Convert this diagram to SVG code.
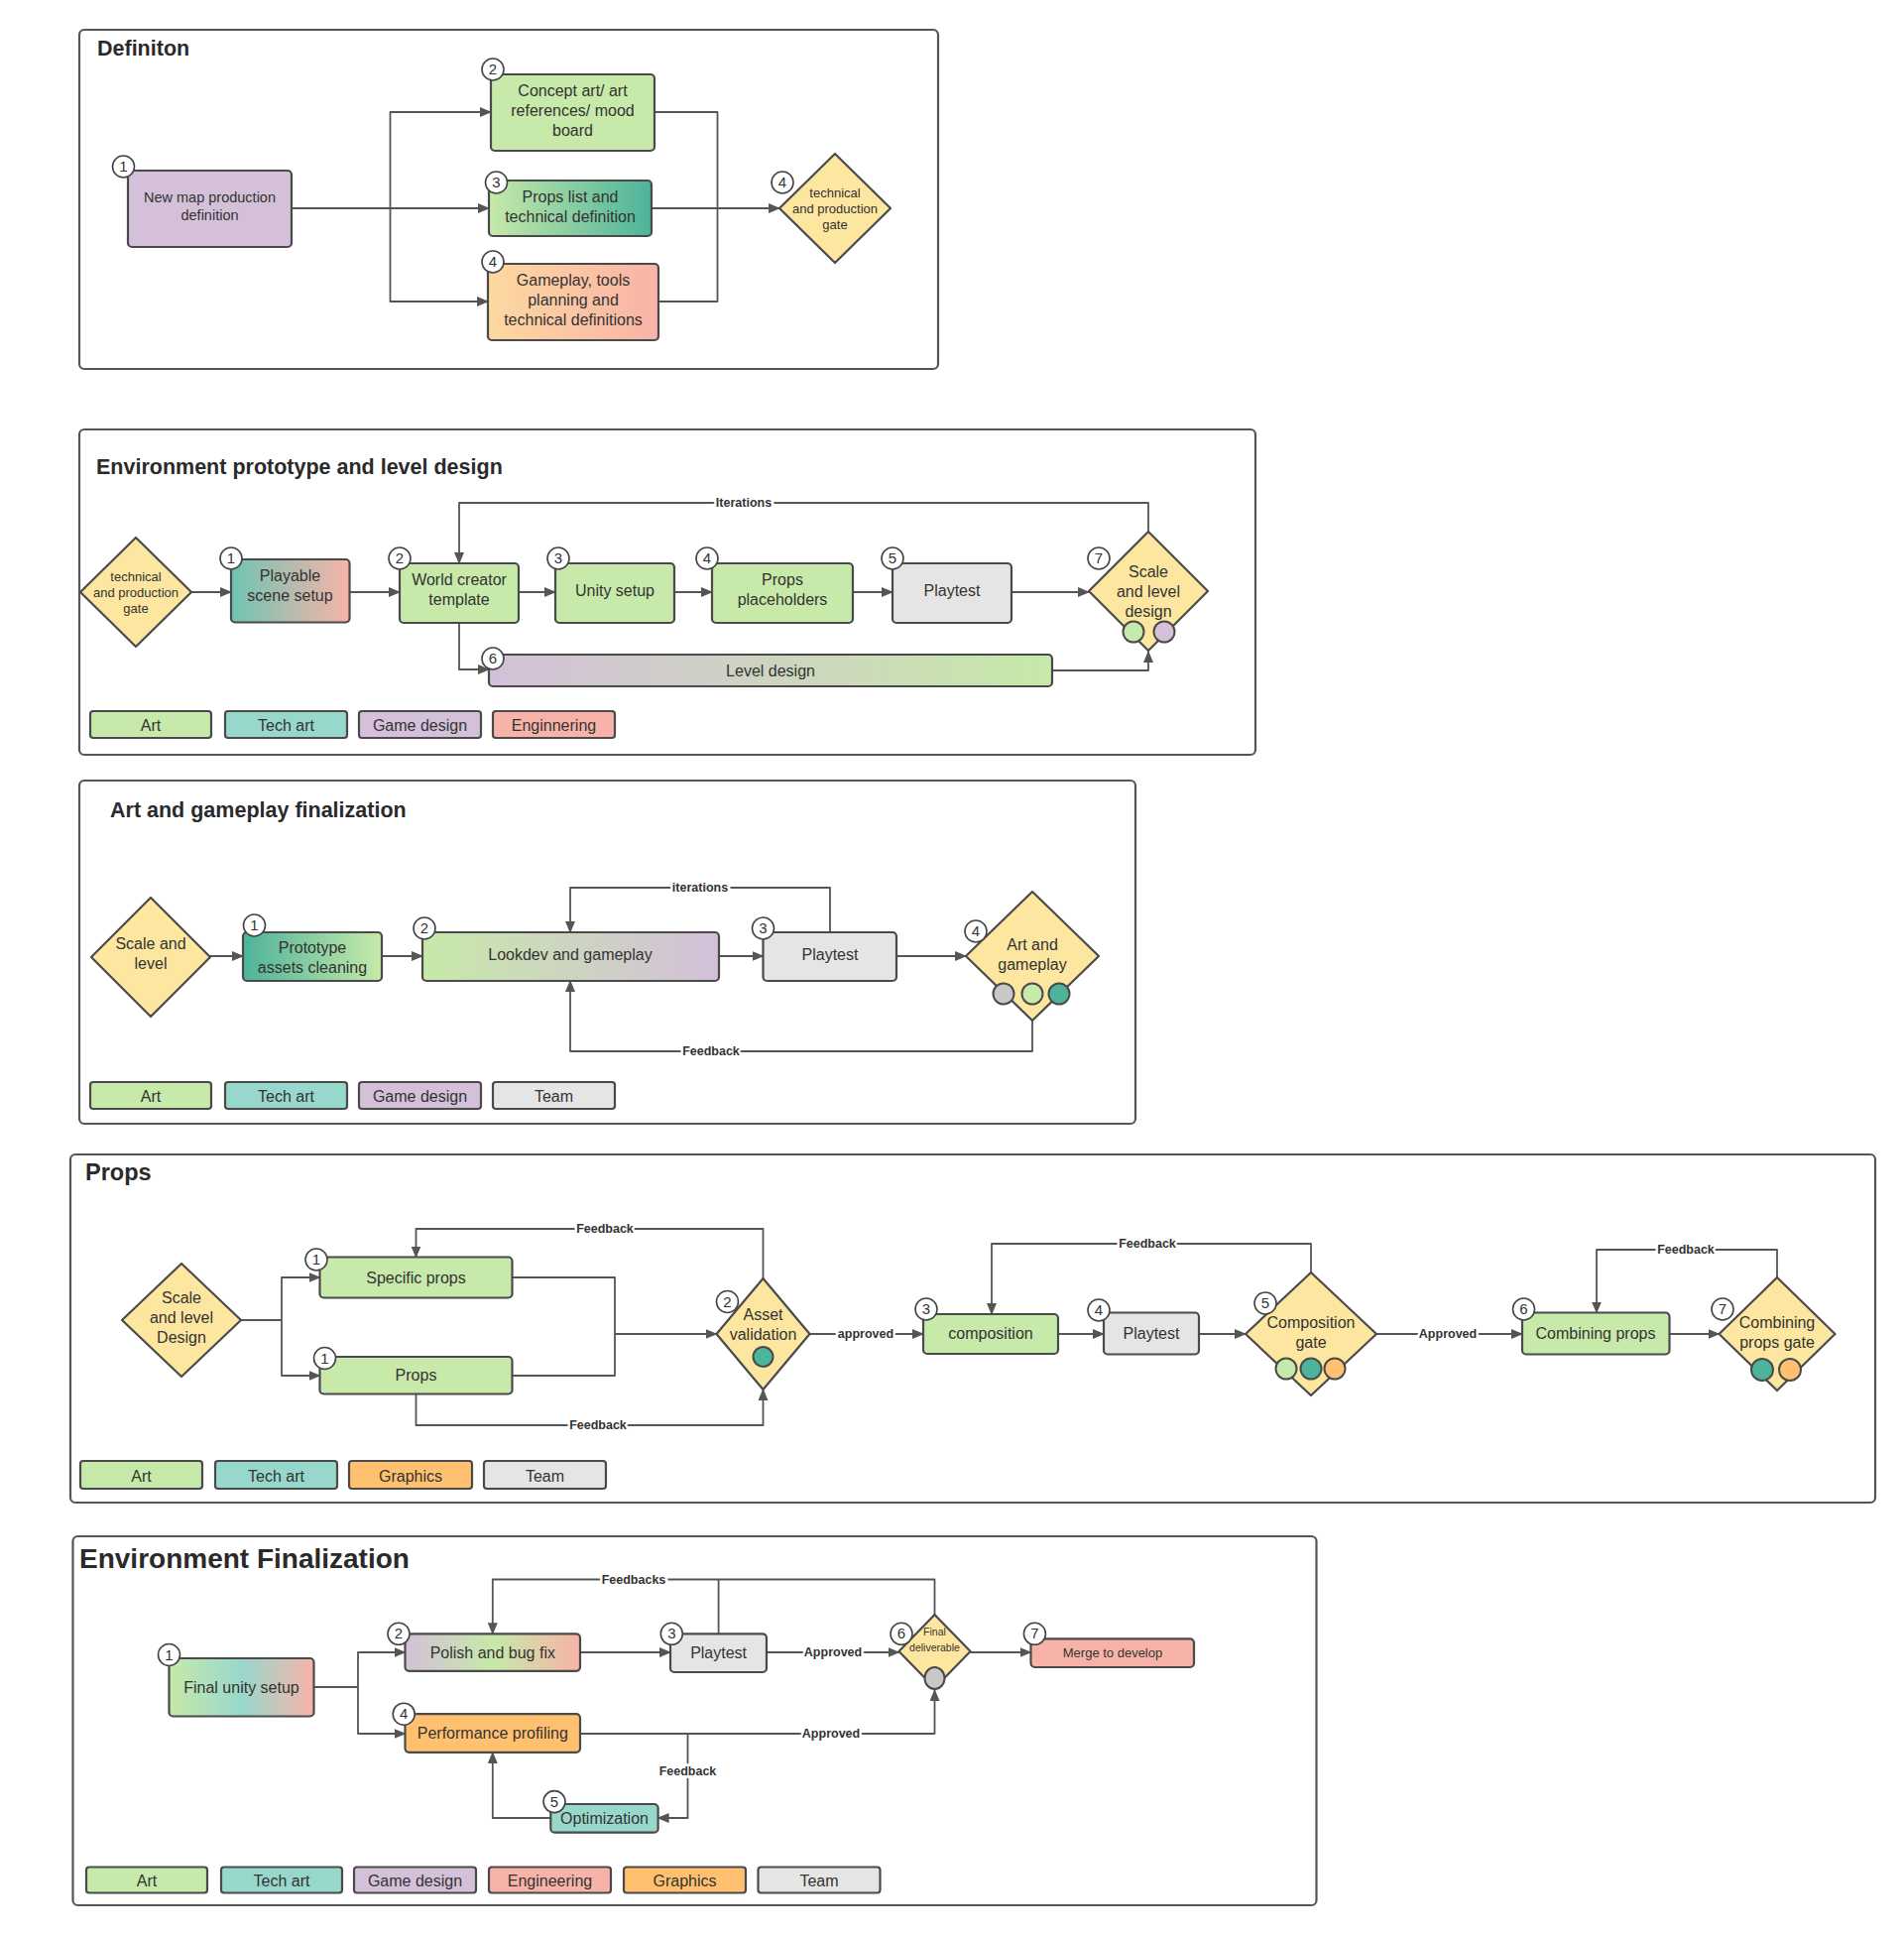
<svg xmlns="http://www.w3.org/2000/svg" width="1920" height="1952" viewBox="0 0 1920 1952">
<style>
.frame{fill:#fff;stroke:#555;stroke-width:2.2}
.title{font-family:'Liberation Sans',Arial,sans-serif;font-weight:bold;font-size:21.5px;fill:#2a2a2a}
.n{stroke:#4a4a4a;stroke-width:2.2}
.t{font-family:'Liberation Sans',Arial,sans-serif;font-size:16px;fill:#333;text-anchor:middle}
.ts{font-size:13px}
.green{fill:#C7E9A9}.teal{fill:#98D8CC}.purple{fill:#D4C0D9}.pink{fill:#F8B3A8}.orange{fill:#FFC170}.gray{fill:#E5E5E5}.yellow{fill:#FDE6A0}.dteal{fill:#4DB39B}.cgray{fill:#C8C8C8}
.b circle{fill:#fff;stroke:#444;stroke-width:1.6}
.b text{font-family:'Liberation Sans',Arial,sans-serif;font-size:15px;fill:#333;text-anchor:middle}
.c path{fill:none;stroke:#555;stroke-width:1.8;stroke-linejoin:round}
.c .a{marker-end:url(#ar)}
.lbl{font-family:'Liberation Sans',Arial,sans-serif;font-weight:bold;font-size:12.5px;fill:#333;text-anchor:middle;paint-order:stroke;stroke:#fff;stroke-width:5px}
.dot{stroke:#4a4a4a;stroke-width:2}
</style>
<defs>
<marker id="ar" markerUnits="userSpaceOnUse" markerWidth="12" markerHeight="10" refX="11" refY="5" orient="auto"><path d="M0,0 L12,5 L0,10 z" fill="#555"/></marker>
<linearGradient id="gGT"><stop offset="0" stop-color="#C7E9A9"/><stop offset="1" stop-color="#4DB39B"/></linearGradient>
<linearGradient id="gTG"><stop offset="0" stop-color="#4DB39B"/><stop offset="1" stop-color="#C7E9A9"/></linearGradient>
<linearGradient id="gOP"><stop offset="0" stop-color="#FDD9A0"/><stop offset="1" stop-color="#F8B3A8"/></linearGradient>
<linearGradient id="gTP"><stop offset="0" stop-color="#6FC4B2"/><stop offset="1" stop-color="#F8B3A8"/></linearGradient>
<linearGradient id="gPG"><stop offset="0" stop-color="#D4C0D9"/><stop offset="1" stop-color="#C7E9A9"/></linearGradient>
<linearGradient id="gGP"><stop offset="0" stop-color="#C7E9A9"/><stop offset="1" stop-color="#D4C0D9"/></linearGradient>
<linearGradient id="gGTP"><stop offset="0" stop-color="#C7E9A9"/><stop offset="0.5" stop-color="#98D8CC"/><stop offset="1" stop-color="#F8B3A8"/></linearGradient>
<linearGradient id="gPGP"><stop offset="0" stop-color="#D4C0D9"/><stop offset="0.5" stop-color="#C7E9A9"/><stop offset="1" stop-color="#F8B3A8"/></linearGradient>
</defs>
<rect width="1920" height="1952" fill="#fff"/>

<!-- ============ Section 1: Definiton ============ -->
<g id="sec1">
<rect class="frame" x="80" y="30" width="866" height="342" rx="5"/>
<text class="title" x="98" y="56">Definiton</text>
</g>
<g id="s1-connectors" class="c">
<path class="a" d="M294,210 H493"/>
<path class="a" d="M393.5,210 V113 H495"/>
<path class="a" d="M393.5,210 V304 H492"/>
<path d="M660,113 H723.5 V304 H664"/>
<path class="a" d="M657,210 H786"/>
</g>
<g id="s1-n1"><rect class="n purple" x="129" y="172" width="165" height="77" rx="4"/>
<text class="t" x="211.5" y="204" style="font-size:14.5px">New map production</text><text class="t" x="211.5" y="222" style="font-size:14.5px">definition</text>
<g class="b"><circle cx="124.5" cy="168" r="11"/><text x="124.5" y="173">1</text></g></g>
<g id="s1-n2"><rect class="n green" x="495" y="75" width="165" height="77" rx="4"/>
<text class="t" x="577.5" y="97">Concept art/ art</text><text class="t" x="577.5" y="117">references/ mood</text><text class="t" x="577.5" y="137">board</text>
<g class="b"><circle cx="497" cy="70" r="11"/><text x="497" y="75">2</text></g></g>
<g id="s1-n3"><rect class="n" fill="url(#gGT)" x="493" y="182" width="164" height="56" rx="4"/>
<text class="t" x="575" y="204">Props list and</text><text class="t" x="575" y="224">technical definition</text>
<g class="b"><circle cx="500.5" cy="184" r="11"/><text x="500.5" y="189">3</text></g></g>
<g id="s1-n4"><rect class="n" fill="url(#gOP)" x="492" y="266" width="172" height="77" rx="4"/>
<text class="t" x="578" y="288">Gameplay, tools</text><text class="t" x="578" y="308">planning and</text><text class="t" x="578" y="328">technical definitions</text>
<g class="b"><circle cx="497" cy="264" r="11"/><text x="497" y="269">4</text></g></g>
<g id="s1-gate"><polygon class="n yellow" stroke-linejoin="round" points="842,155 898,210 842,265 786,210"/>
<text class="t ts" x="842" y="199">technical</text><text class="t ts" x="842" y="215">and production</text><text class="t ts" x="842" y="231">gate</text>
<g class="b"><circle cx="789" cy="184" r="11"/><text x="789" y="189">4</text></g></g>

<!-- ============ Section 2 ============ -->
<g id="sec2">
<rect class="frame" x="80" y="433" width="1186" height="328" rx="5"/>
<text class="title" x="97" y="478">Environment prototype and level design</text>
</g>
<g id="s2-connectors" class="c">
<path class="a" d="M193,597 H233"/>
<path class="a" d="M352.5,597 H403"/>
<path class="a" d="M523,597 H560"/>
<path class="a" d="M680,597 H718"/>
<path class="a" d="M860,597 H900"/>
<path class="a" d="M1020,597 H1098"/>
<path class="a" d="M1158,536 V507 H463 V568"/>
<path class="a" d="M463,628 V675 H493"/>
<path class="a" d="M1061,676 H1158 V657"/>
</g>
<text class="lbl" x="750" y="511">Iterations</text>
<g id="s2-gate0"><polygon class="n yellow" stroke-linejoin="round" points="137,542 193,597 137,652 81,597"/>
<text class="t ts" x="137" y="586">technical</text><text class="t ts" x="137" y="602">and production</text><text class="t ts" x="137" y="618">gate</text></g>
<g id="s2-n1"><rect class="n" fill="url(#gTP)" x="233" y="564" width="119.5" height="63.5" rx="4"/>
<text class="t" x="292.5" y="586">Playable</text><text class="t" x="292.5" y="606">scene setup</text>
<g class="b"><circle cx="233" cy="563" r="11"/><text x="233" y="568">1</text></g></g>
<g id="s2-n2"><rect class="n green" x="403" y="568" width="120" height="60" rx="4"/>
<text class="t" x="463" y="590">World creator</text><text class="t" x="463" y="610">template</text>
<g class="b"><circle cx="403" cy="563" r="11"/><text x="403" y="568">2</text></g></g>
<g id="s2-n3"><rect class="n green" x="560" y="568" width="120" height="60" rx="4"/>
<text class="t" x="620" y="601">Unity setup</text>
<g class="b"><circle cx="563" cy="563" r="11"/><text x="563" y="568">3</text></g></g>
<g id="s2-n4"><rect class="n green" x="718" y="568" width="142" height="60" rx="4"/>
<text class="t" x="789" y="590">Props</text><text class="t" x="789" y="610">placeholders</text>
<g class="b"><circle cx="713" cy="563" r="11"/><text x="713" y="568">4</text></g></g>
<g id="s2-n5"><rect class="n gray" x="900" y="568" width="120" height="60" rx="4"/>
<text class="t" x="960" y="601">Playtest</text>
<g class="b"><circle cx="900" cy="563" r="11"/><text x="900" y="568">5</text></g></g>
<g id="s2-n7"><polygon class="n yellow" stroke-linejoin="round" points="1158,536 1218,596 1158,656 1098,596"/>
<text class="t" x="1158" y="582">Scale</text><text class="t" x="1158" y="602">and level</text><text class="t" x="1158" y="622">design</text>
<circle class="dot green" cx="1143" cy="637" r="10.5"/><circle class="dot purple" cx="1174" cy="637" r="10.5"/>
<g class="b"><circle cx="1108" cy="563" r="11"/><text x="1108" y="568">7</text></g></g>
<g id="s2-n6"><rect class="n" fill="url(#gPG)" x="493" y="660" width="568" height="32" rx="4"/>
<text class="t" x="777" y="682">Level design</text>
<g class="b"><circle cx="497" cy="664" r="11"/><text x="497" y="669">6</text></g></g>
<g id="s2-legend">
<rect class="n green" x="91" y="717" width="122" height="27" rx="3"/><text class="t" x="152" y="737">Art</text>
<rect class="n teal" x="227" y="717" width="123" height="27" rx="3"/><text class="t" x="288.5" y="737">Tech art</text>
<rect class="n purple" x="362" y="717" width="123" height="27" rx="3"/><text class="t" x="423.5" y="737">Game design</text>
<rect class="n pink" x="497" y="717" width="123" height="27" rx="3"/><text class="t" x="558.5" y="737">Enginnering</text>
</g>

<!-- ============ Section 3 ============ -->
<g id="sec3">
<rect class="frame" x="80" y="787" width="1065" height="346" rx="5"/>
<text class="title" x="111" y="824">Art and gameplay finalization</text>
</g>
<g id="s3-connectors" class="c">
<path class="a" d="M212,964 H245"/>
<path class="a" d="M385,964 H426"/>
<path class="a" d="M725,964 H769.5"/>
<path class="a" d="M904,964 H974"/>
<path class="a" d="M837,940 V895 H575 V940"/>
<path class="a" d="M1041,1029 V1060 H575 V989"/>
</g>
<text class="lbl" x="706" y="899">iterations</text>
<text class="lbl" x="717" y="1064">Feedback</text>
<g id="s3-gate0"><polygon class="n yellow" stroke-linejoin="round" points="152,905 212,965 152,1025 92,965"/>
<text class="t" x="152" y="957">Scale and</text><text class="t" x="152" y="977">level</text></g>
<g id="s3-n1"><rect class="n" fill="url(#gTG)" x="245" y="940" width="140" height="49" rx="4"/>
<text class="t" x="315" y="961">Prototype</text><text class="t" x="315" y="981">assets cleaning</text>
<g class="b"><circle cx="256.5" cy="933" r="11"/><text x="256.5" y="938">1</text></g></g>
<g id="s3-n2"><rect class="n" fill="url(#gGP)" x="426" y="940" width="299" height="49" rx="4"/>
<text class="t" x="575" y="968">Lookdev and gameplay</text>
<g class="b"><circle cx="428" cy="936" r="11"/><text x="428" y="941">2</text></g></g>
<g id="s3-n3"><rect class="n gray" x="769.5" y="940" width="134.5" height="49" rx="4"/>
<text class="t" x="837" y="968">Playtest</text>
<g class="b"><circle cx="769.5" cy="936" r="11"/><text x="769.5" y="941">3</text></g></g>
<g id="s3-n4"><polygon class="n yellow" stroke-linejoin="round" points="1041,899 1108,964 1041,1029 974,964"/>
<text class="t" x="1041" y="958">Art and</text><text class="t" x="1041" y="978">gameplay</text>
<circle class="dot cgray" cx="1012" cy="1002" r="10.5"/><circle class="dot green" cx="1041" cy="1002" r="10.5"/><circle class="dot dteal" cx="1068" cy="1002" r="10.5"/>
<g class="b"><circle cx="984" cy="939" r="11"/><text x="984" y="944">4</text></g></g>
<g id="s3-legend">
<rect class="n green" x="91" y="1091" width="122" height="27" rx="3"/><text class="t" x="152" y="1111">Art</text>
<rect class="n teal" x="227" y="1091" width="123" height="27" rx="3"/><text class="t" x="288.5" y="1111">Tech art</text>
<rect class="n purple" x="362" y="1091" width="123" height="27" rx="3"/><text class="t" x="423.5" y="1111">Game design</text>
<rect class="n gray" x="497" y="1091" width="123" height="27" rx="3"/><text class="t" x="558.5" y="1111">Team</text>
</g>

<!-- ============ Section 4: Props ============ -->
<g id="sec4">
<rect class="frame" x="71" y="1164" width="1820" height="351" rx="5"/>
<text class="title" x="86" y="1190" style="font-size:23.5px">Props</text>
</g>
<g id="s4-connectors" class="c">
<path class="a" d="M243,1331 H284 V1288 H322.5"/>
<path class="a" d="M284,1331 V1387 H322.5"/>
<path d="M516.5,1288 H620 V1387 H516.5"/>
<path class="a" d="M620,1345 H722.5"/>
<path class="a" d="M769.5,1289 V1239 H419.5 V1267.5"/>
<path class="a" d="M419.5,1405.5 V1437 H769.5 V1401"/>
<path class="a" d="M816.5,1345 H931"/>
<path class="a" d="M1067,1345 H1113"/>
<path class="a" d="M1209,1345 H1256"/>
<path class="a" d="M1322,1283 V1254 H1000 V1325"/>
<path class="a" d="M1388,1345 H1535"/>
<path class="a" d="M1683.5,1345 H1733.5"/>
<path class="a" d="M1792,1288 V1260 H1610 V1323.5"/>
</g>
<text class="lbl" x="610" y="1243">Feedback</text>
<text class="lbl" x="603" y="1441">Feedback</text>
<text class="lbl" x="873" y="1349">approved</text>
<text class="lbl" x="1157" y="1258">Feedback</text>
<text class="lbl" x="1460" y="1349">Approved</text>
<text class="lbl" x="1700" y="1264">Feedback</text>
<g id="s4-gate0"><polygon class="n yellow" stroke-linejoin="round" points="183,1274 243,1331 183,1388 123,1331"/>
<text class="t" x="183" y="1314">Scale</text><text class="t" x="183" y="1334">and level</text><text class="t" x="183" y="1354">Design</text></g>
<g id="s4-n1a"><rect class="n green" x="322.5" y="1267.5" width="194" height="41" rx="4"/>
<text class="t" x="419.5" y="1293.5">Specific props</text>
<g class="b"><circle cx="319" cy="1270" r="11"/><text x="319" y="1275">1</text></g></g>
<g id="s4-n1b"><rect class="n green" x="322.5" y="1368" width="194" height="37.5" rx="4"/>
<text class="t" x="419.5" y="1392">Props</text>
<g class="b"><circle cx="327.5" cy="1369.5" r="11"/><text x="327.5" y="1374.5">1</text></g></g>
<g id="s4-n2"><polygon class="n yellow" stroke-linejoin="round" points="769.5,1289 816.5,1345 769.5,1401 722.5,1345"/>
<text class="t" x="769.5" y="1331">Asset</text><text class="t" x="769.5" y="1351">validation</text>
<circle class="dot dteal" cx="769.5" cy="1368" r="10"/>
<g class="b"><circle cx="733.5" cy="1312.5" r="11"/><text x="733.5" y="1317.5">2</text></g></g>
<g id="s4-n3"><rect class="n green" x="931" y="1325" width="136" height="40" rx="4"/>
<text class="t" x="999" y="1350">composition</text>
<g class="b"><circle cx="934" cy="1320" r="11"/><text x="934" y="1325">3</text></g></g>
<g id="s4-n4"><rect class="n gray" x="1113" y="1323.5" width="96" height="42" rx="4"/>
<text class="t" x="1161" y="1350">Playtest</text>
<g class="b"><circle cx="1108" cy="1321" r="11"/><text x="1108" y="1326">4</text></g></g>
<g id="s4-n5"><polygon class="n yellow" stroke-linejoin="round" points="1322,1283 1388,1345 1322,1407 1256,1345"/>
<text class="t" x="1322" y="1339">Composition</text><text class="t" x="1322" y="1359">gate</text>
<circle class="dot green" cx="1297" cy="1380" r="10.5"/><circle class="dot dteal" cx="1322" cy="1380" r="10.5"/><circle class="dot orange" cx="1346" cy="1380" r="10.5"/>
<g class="b"><circle cx="1276" cy="1314" r="11"/><text x="1276" y="1319">5</text></g></g>
<g id="s4-n6"><rect class="n green" x="1535" y="1323.5" width="148.5" height="42" rx="4"/>
<text class="t" x="1609" y="1350">Combining props</text>
<g class="b"><circle cx="1536.5" cy="1320" r="11"/><text x="1536.5" y="1325">6</text></g></g>
<g id="s4-n7"><polygon class="n yellow" stroke-linejoin="round" points="1792,1288 1850.5,1345 1792,1402 1733.5,1345"/>
<text class="t" x="1792" y="1339">Combining</text><text class="t" x="1792" y="1359">props gate</text>
<circle class="dot dteal" cx="1777" cy="1381" r="11"/><circle class="dot orange" cx="1805" cy="1381" r="11"/>
<g class="b"><circle cx="1737" cy="1320" r="11"/><text x="1737" y="1325">7</text></g></g>
<g id="s4-legend">
<rect class="n green" x="81" y="1473" width="123" height="28" rx="3"/><text class="t" x="142.5" y="1494">Art</text>
<rect class="n teal" x="217" y="1473" width="123" height="28" rx="3"/><text class="t" x="278.5" y="1494">Tech art</text>
<rect class="n orange" x="352" y="1473" width="124" height="28" rx="3"/><text class="t" x="414" y="1494">Graphics</text>
<rect class="n gray" x="488" y="1473" width="123" height="28" rx="3"/><text class="t" x="549.5" y="1494">Team</text>
</g>

<!-- ============ Section 5 ============ -->
<g id="sec5">
<rect class="frame" x="73.5" y="1549" width="1254" height="372" rx="5"/>
<text class="title" x="80" y="1581" style="font-size:28px">Environment Finalization</text>
</g>
<g id="s5-connectors" class="c">
<path class="a" d="M316.5,1701 H361 V1666 H408.5"/>
<path class="a" d="M361,1701 V1748 H408.5"/>
<path class="a" d="M585,1666 H676"/>
<path class="a" d="M773,1666 H906.5"/>
<path class="a" d="M978.5,1666 H1039.5"/>
<path class="a" d="M942.5,1628 V1592.5 H496.8 V1647.3"/>
<path d="M724.6,1647.3 V1592.5"/>
<path class="a" d="M585,1748 H942.5 V1704"/>
<path class="a" d="M693.5,1748 V1833 H663.6"/>
<path class="a" d="M555.3,1833 H496.8 V1767"/>
</g>
<text class="lbl" x="639" y="1597">Feedbacks</text>
<text class="lbl" x="840" y="1670">Approved</text>
<text class="lbl" x="838" y="1752">Approved</text>
<text class="lbl" x="693.5" y="1790">Feedback</text>
<g id="s5-n1"><rect class="n" fill="url(#gGTP)" x="170.5" y="1672" width="146" height="58.5" rx="4"/>
<text class="t" x="243.5" y="1706.5">Final unity setup</text>
<g class="b"><circle cx="170.5" cy="1668.5" r="11"/><text x="170.5" y="1673.5">1</text></g></g>
<g id="s5-n2"><rect class="n" fill="url(#gPGP)" x="408.5" y="1647.3" width="176.5" height="37.5" rx="4"/>
<text class="t" x="496.8" y="1671.5">Polish and bug fix</text>
<g class="b"><circle cx="402" cy="1647.3" r="11"/><text x="402" y="1652.3">2</text></g></g>
<g id="s5-n3"><rect class="n gray" x="676" y="1647.3" width="97" height="38.7" rx="4"/>
<text class="t" x="724.6" y="1671.5">Playtest</text>
<g class="b"><circle cx="677.3" cy="1647.3" r="11"/><text x="677.3" y="1652.3">3</text></g></g>
<g id="s5-n6"><polygon class="n yellow" stroke-linejoin="round" points="942.5,1628 978.5,1665 942.5,1702 906.5,1665"/>
<text class="t" x="942.5" y="1649" style="font-size:10.5px">Final</text><text class="t" x="942.5" y="1665" style="font-size:10.5px">deliverable</text>
<ellipse class="dot cgray" cx="942.5" cy="1692" rx="10" ry="11"/>
<g class="b"><circle cx="909" cy="1647.3" r="11"/><text x="909" y="1652.3">6</text></g></g>
<g id="s5-n7"><rect class="n pink" x="1039.5" y="1652.3" width="164.5" height="28.7" rx="4"/>
<text class="t ts" x="1122" y="1671">Merge to develop</text>
<g class="b"><circle cx="1043.4" cy="1647.3" r="11"/><text x="1043.4" y="1652.3">7</text></g></g>
<g id="s5-n4"><rect class="n orange" x="408.5" y="1728.2" width="176.5" height="38.6" rx="4"/>
<text class="t" x="496.8" y="1753">Performance profiling</text>
<g class="b"><circle cx="407.2" cy="1728.2" r="11"/><text x="407.2" y="1733.2">4</text></g></g>
<g id="s5-n5"><rect class="n teal" x="555.3" y="1819" width="108.3" height="28.7" rx="4"/>
<text class="t" x="609.5" y="1839">Optimization</text>
<g class="b"><circle cx="559" cy="1816.6" r="11"/><text x="559" y="1821.6">5</text></g></g>
<g id="s5-legend">
<rect class="n green" x="87" y="1882.5" width="122" height="26" rx="3"/><text class="t" x="148" y="1902">Art</text>
<rect class="n teal" x="223" y="1882.5" width="122" height="26" rx="3"/><text class="t" x="284" y="1902">Tech art</text>
<rect class="n purple" x="357" y="1882.5" width="123" height="26" rx="3"/><text class="t" x="418.5" y="1902">Game design</text>
<rect class="n pink" x="493" y="1882.5" width="123" height="26" rx="3"/><text class="t" x="554.5" y="1902">Engineering</text>
<rect class="n orange" x="629" y="1882.5" width="123" height="26" rx="3"/><text class="t" x="690.5" y="1902">Graphics</text>
<rect class="n gray" x="764.5" y="1882.5" width="123" height="26" rx="3"/><text class="t" x="826" y="1902">Team</text>
</g>
</svg>
